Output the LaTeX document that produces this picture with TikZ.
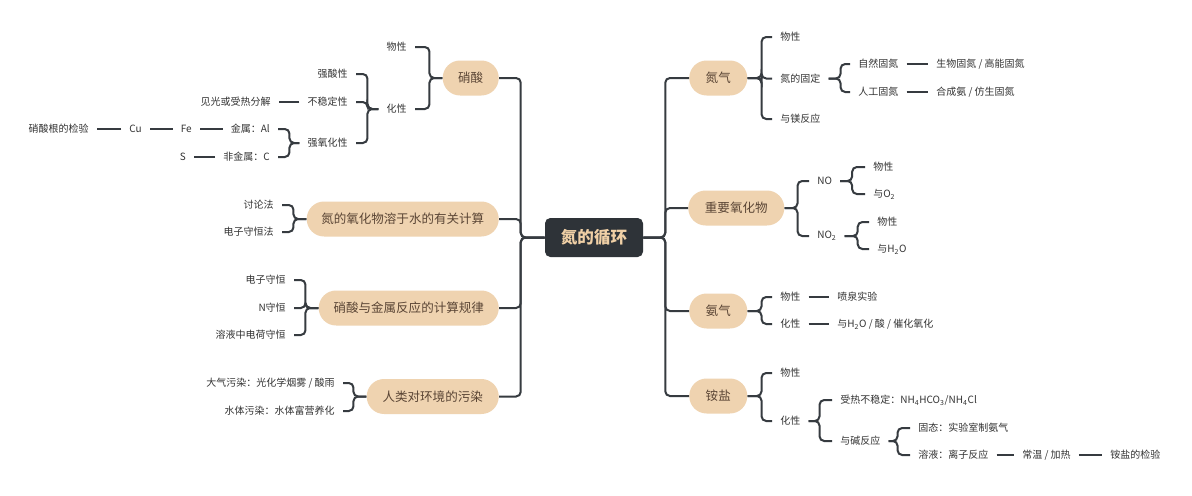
\documentclass[tikz,border=0pt]{standalone}
\usepackage{fontspec}
\setmainfont{Noto Sans CJK SC}
\definecolor{linec}{HTML}{363B40}
\definecolor{leaft}{HTML}{333333}
\definecolor{pillf}{HTML}{EFD3B0}
\definecolor{pillt}{HTML}{5A4535}
\definecolor{rootf}{HTML}{2E3338}
\definecolor{roott}{HTML}{F0D0A6}
\begin{document}
\begin{tikzpicture}[x=0.75pt,y=-0.75pt,
 leaf/.style={font=\fontsize{7.5}{9}\selectfont, text=leaft, inner xsep=6pt, inner ysep=2pt},
 pill/.style={font=\fontsize{9.4}{11}\selectfont, text=pillt, fill=pillf, rounded corners=13pt, minimum height=26.25pt, inner xsep=6pt},
 root/.style={font=\fontsize{12.4}{14}\selectfont\bfseries, text=roott, fill=rootf, rounded corners=4pt, minimum width=73.5pt, minimum height=29.25pt},
 conn/.style={draw=linec, line width=1.5pt, rounded corners=3.5pt},
]
\fill[white] (0,0) rectangle (1192,496);
\useasboundingbox (0,0) rectangle (1192,496);

% root
\node[root] (root) at (594,237.5) {氮的循环};

% ---------- right side ----------
\node[pill, anchor=west, minimum width=43.5pt] (n2) at (689,78) {氮气};
\node[leaf, anchor=west] (n2a) at (772,37) {物性};
\node[leaf, anchor=west] (n2b) at (772,78.5) {氮的固定};
\node[leaf, anchor=west] (n2c) at (772,119) {与镁反应};
\node[leaf, anchor=west] (n2b1) at (850,64) {自然固氮};
\node[leaf, anchor=west] (n2b2) at (850,92) {人工固氮};
\node[leaf, anchor=west] (n2b1a) at (928,64) {生物固氮 / 高能固氮};
\node[leaf, anchor=west] (n2b2a) at (928,92) {合成氨 / 仿生固氮};

\node[pill, anchor=west, minimum width=72pt] (ox) at (688,208) {重要氧化物};
\node[leaf, anchor=west] (no) at (809,181) {NO};
\node[leaf, anchor=west] (no2) at (809,236) {NO\textsubscript{2}};
\node[leaf, anchor=west] (noa) at (865,167) {物性};
\node[leaf, anchor=west] (nob) at (865,194) {与O\textsubscript{2}};
\node[leaf, anchor=west] (no2a) at (869,222) {物性};
\node[leaf, anchor=west] (no2b) at (869,249) {与H\textsubscript{2}O};

\node[pill, anchor=west, minimum width=43.5pt] (nh) at (689,311) {氨气};
\node[leaf, anchor=west] (nha) at (772,297) {物性};
\node[leaf, anchor=west] (nhb) at (772,324) {化性};
\node[leaf, anchor=west] (nha1) at (829,297) {喷泉实验};
\node[leaf, anchor=west] (nhb1) at (829,324) {与H\textsubscript{2}O / 酸 / 催化氧化};

\node[pill, anchor=west, minimum width=43.5pt] (am) at (689,396) {铵盐};
\node[leaf, anchor=west] (ama) at (772,373) {物性};
\node[leaf, anchor=west] (amb) at (772,421) {化性};
\node[leaf, anchor=west] (amb1) at (832,400) {受热不稳定：NH\textsubscript{4}HCO\textsubscript{3}/NH\textsubscript{4}Cl};
\node[leaf, anchor=west] (amb2) at (832,441) {与碱反应};
\node[leaf, anchor=west] (amb2a) at (910,428) {固态：实验室制氨气};
\node[leaf, anchor=west] (amb2b) at (910,455) {溶液：离子反应};
\node[leaf, anchor=west] (amb2c) at (1014,455) {常温 / 加热};
\node[leaf, anchor=west] (amb2d) at (1102,455) {铵盐的检验};

% ---------- left side ----------
\node[pill, anchor=east, minimum width=42pt] (hn) at (499,78) {硝酸};
\node[leaf, anchor=east] (hna) at (415,47) {物性};
\node[leaf, anchor=east] (hnb) at (415,109) {化性};
\node[leaf, anchor=east] (hnb1) at (356,74) {强酸性};
\node[leaf, anchor=east] (hnb2) at (356,102) {不稳定性};
\node[leaf, anchor=east] (hnb3) at (356,143) {强氧化性};
\node[leaf, anchor=east] (hnb2a) at (279,102) {见光或受热分解};
\node[leaf, anchor=east] (mt) at (278,129) {金属：Al};
\node[leaf, anchor=east] (nmt) at (278,157) {非金属：C};
\node[leaf, anchor=east] (fe) at (200,129) {Fe};
\node[leaf, anchor=east] (cu) at (150,129) {Cu};
\node[leaf, anchor=east] (jy) at (97,129) {硝酸根的检验};
\node[leaf, anchor=east] (s) at (194,157) {S};

\node[pill, anchor=east, minimum width=144pt] (calc) at (499,219) {氮的氧化物溶于水的有关计算};
\node[leaf, anchor=east] (calca) at (282,205) {讨论法};
\node[leaf, anchor=east] (calcb) at (282,232) {电子守恒法};

\node[pill, anchor=east, minimum width=135pt] (met) at (499,308) {硝酸与金属反应的计算规律};
\node[leaf, anchor=east] (meta) at (294,280) {电子守恒};
\node[leaf, anchor=east] (metb) at (294,308) {N守恒};
\node[leaf, anchor=east] (metc) at (294,335) {溶液中电荷守恒};

\node[pill, anchor=east, minimum width=99pt] (env) at (499,396.5) {人类对环境的污染};
\node[leaf, anchor=east] (enva) at (343,383) {大气污染：光化学烟雾 / 酸雨};
\node[leaf, anchor=east] (envb) at (343,411) {水体污染：水体富营养化};

% ---------- connectors ----------
\foreach \t in {n2,ox,nh,am} \draw[conn] (root.east) -- ++(22,0) |- (\t.west);
\foreach \t in {hn,calc,met,env} \draw[conn] (root.west) -- ++(-24,0) |- (\t.east);

\foreach \t in {n2a,n2b,n2c} \draw[conn] (n2.east) -- ++(14,0) |- (\t.west);
\foreach \t in {n2b1,n2b2} \draw[conn] (n2b.east) -- ++(12,0) |- (\t.west);
\draw[conn] (n2b1.east) -- (n2b1a.west);
\draw[conn] (n2b2.east) -- (n2b2a.west);

\foreach \t in {no,no2} \draw[conn] (ox.east) -- ++(13,0) |- (\t.west);
\foreach \t in {noa,nob} \draw[conn] (no.east) -- ++(12,0) |- (\t.west);
\foreach \t in {no2a,no2b} \draw[conn] (no2.east) -- ++(13,0) |- (\t.west);

\foreach \t in {nha,nhb} \draw[conn] (nh.east) -- ++(14,0) |- (\t.west);
\draw[conn] (nha.east) -- (nha1.west);
\draw[conn] (nhb.east) -- (nhb1.west);

\foreach \t in {ama,amb} \draw[conn] (am.east) -- ++(14,0) |- (\t.west);
\foreach \t in {amb1,amb2} \draw[conn] (amb.east) -- ++(11,0) |- (\t.west);
\foreach \t in {amb2a,amb2b} \draw[conn] (amb2.east) -- ++(9,0) |- (\t.west);
\draw[conn] (amb2b.east) -- (amb2c.west);
\draw[conn] (amb2c.east) -- (amb2d.west);

\foreach \t in {hna,hnb} \draw[conn] (hn.west) -- ++(-13,0) |- (\t.east);
\foreach \t in {hnb1,hnb2,hnb3} \draw[conn] (hnb.west) -- ++(-11,0) |- (\t.east);
\draw[conn] (hnb2.west) -- (hnb2a.east);
\foreach \t in {mt,nmt} \draw[conn] (hnb3.west) -- ++(-10,0) |- (\t.east);
\draw[conn] (mt.west) -- (fe.east);
\draw[conn] (fe.west) -- (cu.east);
\draw[conn] (cu.west) -- (jy.east);
\draw[conn] (nmt.west) -- (s.east);

\foreach \t in {calca,calcb} \draw[conn] (calc.west) -- ++(-13,0) |- (\t.east);
\foreach \t in {meta,metb,metc} \draw[conn] (met.west) -- ++(-13,0) |- (\t.east);
\foreach \t in {enva,envb} \draw[conn] (env.west) -- ++(-13,0) |- (\t.east);
\end{tikzpicture}
\end{document}
